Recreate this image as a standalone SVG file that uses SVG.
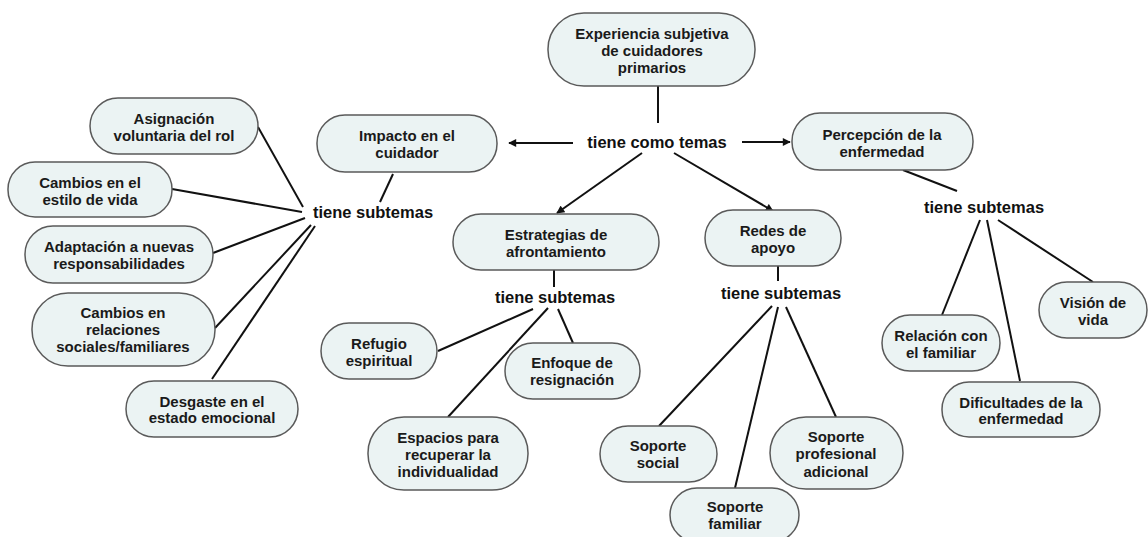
<svg xmlns="http://www.w3.org/2000/svg" width="1148" height="537" viewBox="0 0 1148 537">
<defs>
<style>
.n rect{fill:#ebf3f3;stroke:#5a5a5a;stroke-width:1.5}
.n text{font-family:"Liberation Sans",Arial,sans-serif;font-weight:bold;font-size:15px;fill:#1a1a1a;text-anchor:middle}
.lp{font-family:"Liberation Sans",Arial,sans-serif;font-weight:bold;font-size:16.5px;fill:#111;text-anchor:middle}
.c line{stroke:#111;stroke-width:2;fill:none}
</style>
<marker id="ah" viewBox="0 0 10 10" refX="9" refY="5" markerWidth="9" markerHeight="8" markerUnits="userSpaceOnUse" orient="auto">
<path d="M0,0 L10,5 L0,10 Z" fill="#111"/>
</marker>
</defs>
<rect width="1148" height="537" fill="#fff"/>

<g id="connectors" class="c">
<line x1="658" y1="86" x2="658" y2="123"/>
<line x1="573" y1="143" x2="509" y2="143" marker-end="url(#ah)"/>
<line x1="742" y1="142" x2="790" y2="142" marker-end="url(#ah)"/>
<line x1="642" y1="153" x2="557" y2="213" marker-end="url(#ah)"/>
<line x1="674" y1="153" x2="773" y2="211" marker-end="url(#ah)"/>
<line x1="393" y1="174" x2="380" y2="202"/>
<line x1="303" y1="207" x2="258" y2="127"/>
<line x1="302" y1="212" x2="172" y2="189"/>
<line x1="305" y1="218" x2="213" y2="253"/>
<line x1="311" y1="225" x2="215" y2="328"/>
<line x1="315" y1="226" x2="212" y2="379"/>
<line x1="554" y1="270" x2="554" y2="287"/>
<line x1="533" y1="309" x2="438" y2="351"/>
<line x1="558" y1="309" x2="573" y2="343"/>
<line x1="548" y1="308" x2="448" y2="417"/>
<line x1="778" y1="266" x2="778" y2="281"/>
<line x1="772" y1="306" x2="659" y2="426"/>
<line x1="778" y1="307" x2="735" y2="488"/>
<line x1="786" y1="307" x2="836" y2="417"/>
<line x1="903" y1="170" x2="957" y2="191"/>
<line x1="980" y1="220" x2="942" y2="315"/>
<line x1="987" y1="220" x2="1020" y2="381"/>
<line x1="998" y1="220" x2="1093" y2="282"/>
</g>

<g id="linking-phrases">
<text class="lp" x="657" y="148">tiene como temas</text>
<text class="lp" x="373" y="218">tiene subtemas</text>
<text class="lp" x="555" y="303">tiene subtemas</text>
<text class="lp" x="781" y="299">tiene subtemas</text>
<text class="lp" x="984" y="213">tiene subtemas</text>
</g>

<g id="n-experiencia" class="n"><rect x="548" y="13" width="207" height="73" rx="36"/>
<text x="652" y="39">Experiencia subjetiva</text><text x="652" y="56">de cuidadores</text><text x="652" y="73">primarios</text></g>

<g id="n-impacto" class="n"><rect x="317" y="115" width="180" height="57" rx="28"/>
<text x="407" y="141">Impacto en el</text><text x="407" y="158">cuidador</text></g>

<g id="n-percepcion" class="n"><rect x="792" y="113" width="181" height="57" rx="28"/>
<text x="882" y="140">Percepción de la</text><text x="882" y="157">enfermedad</text></g>

<g id="n-estrategias" class="n"><rect x="453" y="214" width="206" height="56" rx="28"/>
<text x="556" y="240">Estrategias de</text><text x="556" y="257">afrontamiento</text></g>

<g id="n-redes" class="n"><rect x="705" y="210" width="136" height="56" rx="28"/>
<text x="773" y="236">Redes de</text><text x="773" y="253">apoyo</text></g>

<g id="n-asignacion" class="n"><rect x="90" y="98" width="168" height="56" rx="28"/>
<text x="174" y="124">Asignación</text><text x="174" y="141">voluntaria del rol</text></g>

<g id="n-estilo" class="n"><rect x="8" y="162" width="164" height="55" rx="27"/>
<text x="90" y="188">Cambios en el</text><text x="90" y="205">estilo de vida</text></g>

<g id="n-adaptacion" class="n"><rect x="25" y="226" width="188" height="57" rx="28"/>
<text x="119" y="252">Adaptación a nuevas</text><text x="119" y="269">responsabilidades</text></g>

<g id="n-relaciones" class="n"><rect x="32" y="293" width="183" height="73" rx="36"/>
<text x="123" y="318">Cambios en</text><text x="123" y="335">relaciones</text><text x="123" y="352">sociales/familiares</text></g>

<g id="n-desgaste" class="n"><rect x="126" y="381" width="172" height="56" rx="28"/>
<text x="212" y="407">Desgaste en el</text><text x="212" y="423">estado emocional</text></g>

<g id="n-refugio" class="n"><rect x="321" y="323" width="116" height="56" rx="28"/>
<text x="379" y="349">Refugio</text><text x="379" y="366">espiritual</text></g>

<g id="n-enfoque" class="n"><rect x="505" y="343" width="135" height="56" rx="28"/>
<text x="572" y="368">Enfoque de</text><text x="572" y="385">resignación</text></g>

<g id="n-espacios" class="n"><rect x="368" y="417" width="160" height="73" rx="36"/>
<text x="448" y="443">Espacios para</text><text x="448" y="460">recuperar la</text><text x="448" y="477">individualidad</text></g>

<g id="n-social" class="n"><rect x="600" y="426" width="117" height="56" rx="28"/>
<text x="658" y="451">Soporte</text><text x="658" y="468">social</text></g>

<g id="n-familiar" class="n"><rect x="670" y="488" width="129" height="54" rx="27"/>
<text x="735" y="512">Soporte</text><text x="735" y="529">familiar</text></g>

<g id="n-profesional" class="n"><rect x="770" y="417" width="133" height="72" rx="36"/>
<text x="836" y="442">Soporte</text><text x="836" y="459">profesional</text><text x="836" y="477">adicional</text></g>

<g id="n-relacion" class="n"><rect x="882" y="315" width="118" height="56" rx="28"/>
<text x="941" y="341">Relación con</text><text x="941" y="358">el familiar</text></g>

<g id="n-dificultades" class="n"><rect x="942" y="382" width="158" height="55" rx="27"/>
<text x="1021" y="408">Dificultades de la</text><text x="1021" y="424">enfermedad</text></g>

<g id="n-vision" class="n"><rect x="1039" y="282" width="108" height="56" rx="28"/>
<text x="1093" y="308">Visión de</text><text x="1093" y="325">vida</text></g>
</svg>
